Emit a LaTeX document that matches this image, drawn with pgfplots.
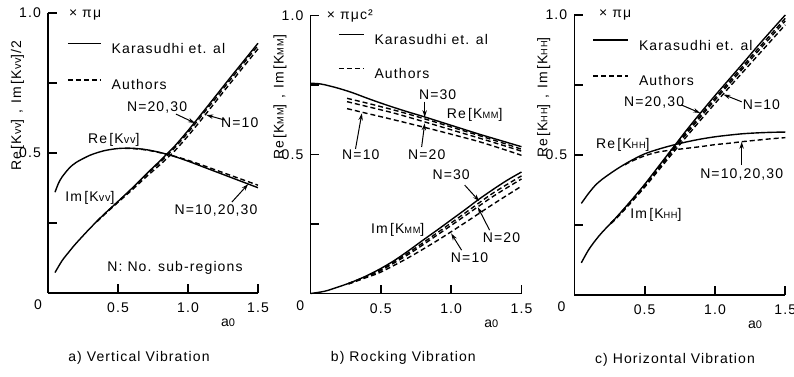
\documentclass[border=0pt]{standalone}
\usepackage{pgfplots}
\pgfplotsset{compat=1.18}
\usetikzlibrary{arrows.meta}
\usepackage{fontspec}
\setmainfont[LetterSpace=8]{Liberation Sans}
\newcommand\myfs{\fontsize{7pt}{8pt}\selectfont}
\newcommand\sm[1]{{\fontsize{5.5pt}{6pt}\selectfont #1}}
\newcommand\smc[1]{{\fontsize{4.6pt}{5pt}\selectfont #1}}
\pgfplotsset{
  panel/.style={
    scale only axis, xmin=0, xmax=1.5, ymin=0, ymax=1,
    axis lines=left,
    axis line style={-, line width=0.8pt},
    tick align=inside,
    major tick length=4.5pt,
    tick style={black, line width=0.9pt},
    xtick={0.5,1,1.5}, xticklabels={0.5,1.0,1.5},
    ytick={0.25,0.5,0.75,1}, yticklabels={,0.5,,1.0},
    xticklabel style={yshift=-1.5pt, font=\myfs},
    yticklabel style={font=\myfs},
    clip=false,
    xlabel={a\sm{0}},
    xlabel style={at={(axis description cs:0.857,-0.107)}, anchor=center, font=\myfs},
    ylabel style={anchor=center, font=\myfs},
    legend style={draw=none, fill=none, inner sep=0pt, column sep=5pt,
      font=\myfs, nodes={inner sep=0pt, text height=5pt, text depth=0pt},
      anchor=north west},
    legend cell align=left,
    every axis plot/.append style={line width=0.7pt, black, no markers},
  },
  refl/.style={solid, smooth},
  auth/.style={dash pattern=on 2.5pt off 1.5pt, smooth},
}
\tikzset{arr/.style={-{Stealth[length=3.5pt,width=2.2pt]}, line width=0.5pt},
         lab/.style={font=\myfs}}
\begin{document}
\begin{tikzpicture}[font=\myfs]
\path[use as bounding box] (0,0) rectangle (397pt,188pt);

% ---------------- panel a ----------------
\begin{axis}[panel, at={(24pt,41.5pt)}, anchor=south west, width=105pt, height=140pt,
  ylabel={Re\,[K\sm{vv}]\hspace{3pt},\hspace{3pt}Im\,[K\sm{vv}]/2},
  ylabel style={at={(axis description cs:-0.145,0.67)}},
  legend style={at={(0.09,0.896)}, row sep=13pt},
  legend image code/.code={\draw[#1] (0pt,2.5pt) -- (16.5pt,2.5pt);}]
\addlegendimage{refl}\addlegendentry{Karasudhi et. al}
\addlegendimage{auth}\addlegendentry{Authors}
\addplot[refl] coordinates {(0.05,0.36)(0.075,0.392)(0.1,0.414)(0.15,0.445)(0.2,0.466)(0.3,0.492)(0.4,0.508)(0.5,0.516)(0.6,0.517)(0.7,0.512)(0.8,0.502)(0.9,0.488)(1.0,0.471)(1.1,0.452)(1.2,0.433)(1.3,0.414)(1.4,0.395)(1.5,0.376)};
\addplot[auth] coordinates {(0.55,0.516)(0.6,0.516)(0.7,0.511)(0.8,0.501)(0.9,0.489)(1.0,0.474)(1.1,0.457)(1.2,0.439)(1.3,0.421)(1.4,0.403)(1.5,0.385)};
\addplot[refl] coordinates {(0.05,0.073)(0.1,0.115)(0.15,0.147)(0.2,0.177)(0.3,0.231)(0.4,0.281)(0.5,0.327)(0.6,0.374)(0.7,0.424)(0.8,0.472)(0.9,0.522)(1.0,0.58)(1.1,0.642)(1.2,0.705)(1.3,0.768)(1.4,0.83)(1.5,0.892)};
\addplot[auth] coordinates {(0.35,0.256)(0.4,0.28)(0.5,0.326)(0.6,0.372)(0.7,0.421)(0.8,0.467)(0.9,0.516)(1.0,0.573)(1.1,0.635)(1.2,0.697)(1.3,0.76)(1.4,0.822)(1.5,0.884)};
\addplot[auth] coordinates {(0.35,0.255)(0.4,0.279)(0.5,0.324)(0.6,0.368)(0.7,0.414)(0.8,0.458)(0.9,0.505)(1.0,0.561)(1.1,0.622)(1.2,0.685)(1.3,0.748)(1.4,0.81)(1.5,0.872)};
\node[lab, anchor=west] at (axis cs:0.1,0.993) {× πμ};
\node[lab] at (axis cs:0.779,0.661) {N=20,30};
\draw[arr] (axis cs:0.914,0.639) -- (axis cs:1.05,0.607);
\node[lab] at (axis cs:1.37,0.61) {N=10};
\draw[arr] (axis cs:1.26,0.618) -- (axis cs:1.13,0.636);
\node[lab] at (axis cs:0.47,0.546) {Re\,[K\sm{vv}]};
\node[lab] at (axis cs:0.30,0.34) {Im\,[K\sm{vv}]};
\node[lab] at (axis cs:1.2,0.296) {N=10,20,30};
\draw[arr] (axis cs:1.314,0.325) -- (axis cs:1.43,0.389);
\node[lab] at (axis cs:0.907,0.089) {N: No. sub-regions};
\node[lab] at (axis description cs:-0.048,-0.043) {0};
\node[lab] at (axis description cs:0.433,-0.232) {a) Vertical Vibration};
\end{axis}

% ---------------- panel b ----------------
\begin{axis}[panel, at={(155.25pt,41.25pt)}, anchor=south west, width=105.5pt, height=139pt,
  ylabel={Re\,[K\smc{MM}]\hspace{3pt},\hspace{3pt}Im\,[K\smc{MM}]},
  ylabel style={at={(axis description cs:-0.145,0.705)}},
  legend style={at={(0.129,0.935)}, row sep=11.5pt},
  legend image code/.code={\draw[#1] (0pt,2.5pt) -- (12.5pt,2.5pt);}]
\addlegendimage{refl}\addlegendentry{Karasudhi et. al}
\addlegendimage{auth}\addlegendentry{Authors}
\addplot[refl] coordinates {(0,0.756)(0.05,0.755)(0.1,0.751)(0.2,0.738)(0.3,0.722)(0.4,0.703)(0.5,0.685)(0.6,0.668)(0.7,0.652)(0.8,0.637)(0.9,0.621)(1.0,0.605)(1.1,0.589)(1.2,0.573)(1.3,0.558)(1.4,0.543)(1.5,0.528)};
\addplot[auth] coordinates {(0.26,0.702)(0.4,0.685)(0.6,0.659)(0.8,0.63)(1.0,0.599)(1.2,0.568)(1.4,0.536)(1.5,0.519)};
\addplot[auth] coordinates {(0.26,0.69)(0.4,0.673)(0.6,0.648)(0.8,0.619)(1.0,0.589)(1.2,0.559)(1.4,0.528)(1.5,0.512)};
\addplot[auth] coordinates {(0.26,0.665)(0.4,0.648)(0.6,0.624)(0.8,0.599)(1.0,0.573)(1.2,0.546)(1.4,0.514)(1.5,0.497)};
\addplot[refl] coordinates {(0,0)(0.1,0.008)(0.2,0.024)(0.3,0.042)(0.4,0.064)(0.5,0.09)(0.6,0.12)(0.7,0.155)(0.8,0.192)(0.9,0.228)(1.0,0.265)(1.1,0.302)(1.2,0.34)(1.3,0.375)(1.4,0.408)(1.5,0.437)};
\addplot[auth] coordinates {(0.27,0.036)(0.4,0.062)(0.5,0.086)(0.7,0.148)(0.9,0.218)(1.1,0.29)(1.3,0.362)(1.5,0.423)};
\addplot[auth] coordinates {(0.27,0.035)(0.4,0.061)(0.5,0.083)(0.7,0.142)(0.9,0.21)(1.1,0.28)(1.3,0.35)(1.5,0.412)};
\addplot[auth] coordinates {(0.27,0.034)(0.4,0.058)(0.5,0.077)(0.7,0.13)(0.9,0.19)(1.1,0.255)(1.3,0.322)(1.5,0.386)};
\node[lab, anchor=west] at (axis cs:0.067,1.0) {× πμc²};
\node[lab] at (axis cs:0.904,0.714) {N=30};
\draw[arr] (axis cs:0.812,0.69) -- (axis cs:0.812,0.634);
\node[lab] at (axis cs:1.167,0.642) {Re\,[K\smc{MM}]};
\node[lab] at (axis cs:0.358,0.498) {N=10};
\draw[arr] (axis cs:0.32,0.52) -- (axis cs:0.365,0.648);
\node[lab] at (axis cs:0.826,0.498) {N=20};
\draw[arr] (axis cs:0.79,0.527) -- (axis cs:0.812,0.612);
\node[lab] at (axis cs:1.0,0.426) {N=30};
\draw[arr] (axis cs:1.096,0.39) -- (axis cs:1.2,0.332);
\node[lab] at (axis cs:1.358,0.2) {N=20};
\draw[arr] (axis cs:1.273,0.228) -- (axis cs:1.19,0.31);
\node[lab] at (axis cs:0.62,0.228) {Im\,[K\smc{MM}]};
\node[lab] at (axis cs:1.131,0.128) {N=10};
\draw[arr] (axis cs:1.074,0.156) -- (axis cs:1.0,0.216);
\node[lab] at (axis description cs:-0.048,-0.043) {0};
\node[lab] at (axis description cs:0.44,-0.232) {b) Rocking Vibration};
\end{axis}

% ---------------- panel c ----------------
\begin{axis}[panel, at={(287.15pt,40.5pt)}, anchor=south west, width=105.5pt, height=140pt,
  ylabel={Re\,[K\smc{HH}]\hspace{3pt},\hspace{3pt}Im\,[K\smc{HH}]},
  ylabel style={at={(axis description cs:-0.145,0.705)}},
  legend style={at={(0.085,0.914)}, row sep=12.5pt},
  legend image code/.code={\draw[#1] (0pt,2.5pt) -- (17.5pt,2.5pt);}]
\addlegendimage{refl}\addlegendentry{Karasudhi et. al}
\addlegendimage{auth}\addlegendentry{Authors}
\addplot[refl] coordinates {(0.05,0.327)(0.1,0.362)(0.15,0.392)(0.2,0.414)(0.3,0.449)(0.4,0.479)(0.5,0.504)(0.6,0.521)(0.7,0.535)(0.8,0.547)(0.9,0.557)(1.0,0.565)(1.1,0.571)(1.2,0.576)(1.3,0.579)(1.4,0.581)(1.5,0.582)};
\addplot[auth] coordinates {(0.36,0.465)(0.4,0.476)(0.5,0.497)(0.6,0.511)(0.7,0.518)(0.8,0.524)(0.9,0.53)(1.0,0.537)(1.1,0.542)(1.2,0.548)(1.3,0.553)(1.4,0.558)(1.5,0.562)};
\addplot[refl] coordinates {(0.05,0.115)(0.1,0.16)(0.15,0.195)(0.2,0.225)(0.3,0.278)(0.4,0.335)(0.5,0.395)(0.6,0.46)(0.7,0.525)(0.8,0.59)(0.9,0.652)(1.0,0.712)(1.1,0.77)(1.2,0.828)(1.3,0.887)(1.4,0.944)(1.5,1.0)};
\addplot[auth] coordinates {(0.26,0.257)(0.3,0.277)(0.4,0.333)(0.5,0.392)(0.6,0.456)(0.7,0.52)(0.8,0.583)(0.9,0.644)(1.0,0.703)(1.1,0.761)(1.2,0.818)(1.3,0.876)(1.4,0.932)(1.5,0.988)};
\addplot[auth] coordinates {(0.26,0.256)(0.3,0.276)(0.4,0.331)(0.5,0.389)(0.6,0.452)(0.7,0.515)(0.8,0.577)(0.9,0.637)(1.0,0.696)(1.1,0.753)(1.2,0.81)(1.3,0.867)(1.4,0.923)(1.5,0.979)};
\addplot[auth] coordinates {(0.26,0.255)(0.3,0.274)(0.4,0.328)(0.5,0.385)(0.6,0.446)(0.7,0.507)(0.8,0.567)(0.9,0.626)(1.0,0.684)(1.1,0.741)(1.2,0.797)(1.3,0.853)(1.4,0.909)(1.5,0.965)};
\node[lab, anchor=west] at (axis cs:0.126,1.0) {× πμ};
\node[lab] at (axis cs:0.567,0.686) {N=20,30};
\draw[arr] (axis cs:0.76,0.679) -- (axis cs:0.895,0.65);
\node[lab] at (axis cs:1.33,0.679) {N=10};
\draw[arr] (axis cs:1.19,0.69) -- (axis cs:1.06,0.716);
\node[lab] at (axis cs:0.345,0.536) {Re\,[K\smc{HH}]};
\node[lab] at (axis cs:1.19,0.429) {N=10,20,30};
\draw[arr] (axis cs:1.19,0.464) -- (axis cs:1.19,0.547);
\node[lab] at (axis cs:0.58,0.286) {Im\,[K\smc{HH}]};
\node[lab] at (axis description cs:-0.06,-0.043) {0};
\node[lab] at (axis description cs:0.477,-0.232) {c) Horizontal Vibration};
\end{axis}
\end{tikzpicture}
\end{document}
